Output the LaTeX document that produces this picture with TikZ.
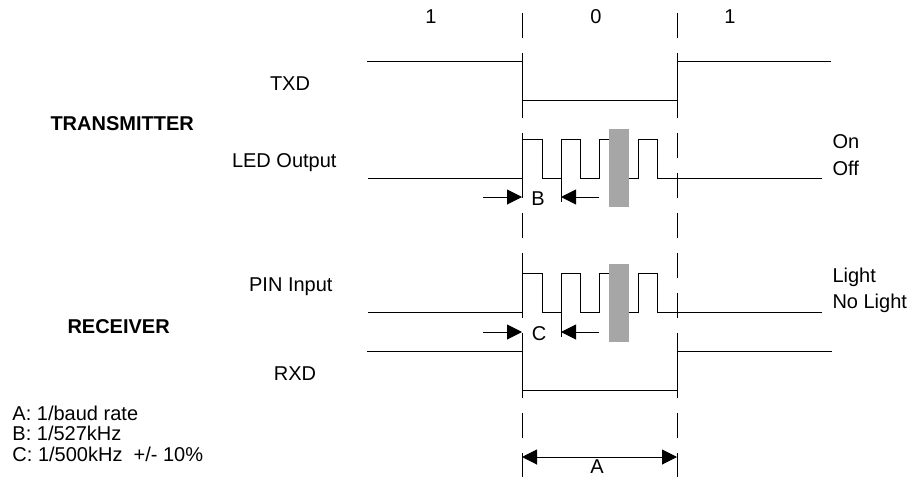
\documentclass[tikz,border=0pt]{standalone}
\usepackage{fontspec}
\setmainfont{Liberation Sans}
\usetikzlibrary{arrows.meta}
\definecolor{burst}{RGB}{166,166,166}
\begin{document}
\begin{tikzpicture}[x=1pt, y=-1pt, line width=1pt,
    every node/.style={font=\fontsize{20}{24}\selectfont, inner sep=0pt},
    tip/.style={-{Triangle[length=15pt,width=15pt]}}]
      \useasboundingbox (0,0) rectangle (917,477);
      % bit cells
      \draw[dash pattern=on 25pt off 15pt] (522,13) -- (522,477);
      \draw[dash pattern=on 25pt off 15pt] (677,13) -- (677,477);
      \node (bitl) at (431,17) {1};
      \node (bitm) at (596,17) {0};
      \node (bitr) at (730,17) {1};
      % TXD
      \node (txd) at (290,84) {TXD};
      \draw (367,61) -- (522,61) -- (522,100) -- (677,100) -- (677,61) -- (831,61);
      \node[anchor=west, font=\fontsize{20}{24}\selectfont\bfseries] (tx) at (50,124) {TRANSMITTER};
      % LED output
      \node[anchor=east] (led) at (337,163) {LED Output};
      \draw (368,178) -- (522,178) -- (522,139) -- (542,139) -- (542,178) -- (561,178)
        -- (561,139) -- (580,139) -- (580,178) -- (599,178) -- (599,139) -- (615,139);
      \draw (620,178) -- (638,178) -- (638,139) -- (657,139) -- (657,178) -- (822,178);
      \draw (561,178) -- (561,202);
      \fill[burst] (609,129) rectangle (629,207);
      \node[anchor=west] (on) at (832,142) {On};
      \node[anchor=west] (off) at (832,168) {Off};
      % B
      \draw[tip] (483,197) -- (522,197);
      \draw[tip] (599,197) -- (561,197);
      \node (b) at (538,199) {B};
      % PIN input
      \node[anchor=east] (pin) at (333,287) {PIN Input};
      \draw (368,312) -- (522,312) -- (522,273) -- (542,273) -- (542,312) -- (561,312)
        -- (561,273) -- (580,273) -- (580,312) -- (599,312) -- (599,273) -- (615,273);
      \draw (620,312) -- (638,312) -- (638,273) -- (657,273) -- (657,312) -- (822,312);
      \draw (561,312) -- (561,337);
      \fill[burst] (609,264) rectangle (629,342);
      \node[anchor=west] (light) at (832,277) {Light};
      \node[anchor=west] (dark) at (832,303) {No Light};
      \node[anchor=west, font=\fontsize{20}{24}\selectfont\bfseries] (rx) at (67,327) {RECEIVER};
      % C
      \draw[tip] (483,332) -- (522,332);
      \draw[tip] (599,332) -- (561,332);
      \node (c) at (539,334) {C};
      % RXD
      \node (rxd) at (295,374) {RXD};
      \draw (367,351) -- (522,351) -- (522,390) -- (677,390) -- (677,351) -- (832,351);
      % A
      \draw[{Triangle[length=15pt,width=15pt]}-{Triangle[length=15pt,width=15pt]}] (522,457) -- (677,457);
      \node (a) at (597,467) {A};
      % legend
      \node[anchor=west] (keya) at (12,413) {A: 1/baud rate};
      \node[anchor=west] (keyb) at (12,433) {B: 1/527kHz};
      \node[anchor=west] (keyc) at (12,454) {C: 1/500kHz\ \ +/- 10\%};
    \end{tikzpicture}
\end{document}
